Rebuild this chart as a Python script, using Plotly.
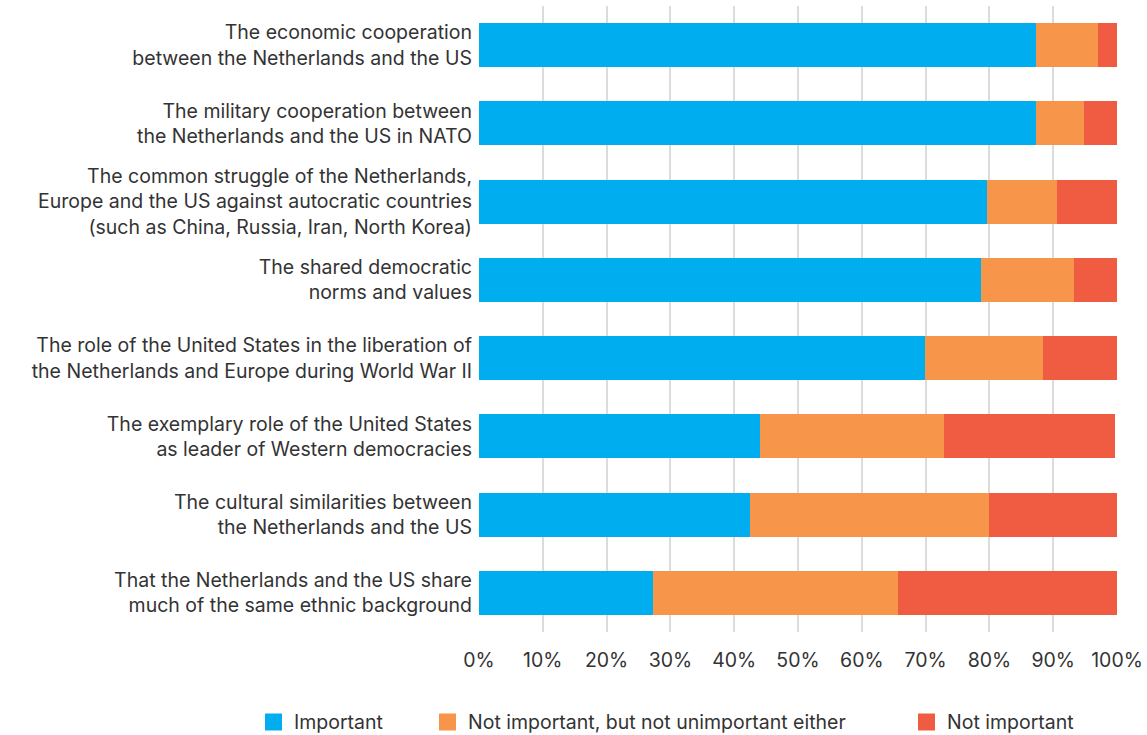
import plotly.graph_objects as go

categories = [
    "The economic cooperation<br>between the Netherlands and the US",
    "The military cooperation between<br>the Netherlands and the US in NATO",
    "The common struggle of the Netherlands,<br>Europe and the US against autocratic countries<br>(such as China, Russia, Iran, North Korea)",
    "The shared democratic<br>norms and values",
    "The role of the United States in the liberation of<br>the Netherlands and Europe during World War II",
    "The exemplary role of the United States<br>as leader of Western democracies",
    "The cultural similarities between<br>the Netherlands and the US",
    "That the Netherlands and the US share<br>much of the same ethnic background",
]
important = [87.3, 87.3, 79.6, 78.7, 69.9, 44.0, 42.5, 27.2]
neutral = [9.7, 7.6, 11.0, 14.6, 18.5, 28.9, 37.5, 38.5]
not_important = [3.0, 5.1, 9.4, 6.7, 11.6, 26.8, 20.0, 34.3]

series = [
    ("Important", important, "#00AEEF"),
    ("Not important, but not unimportant either", neutral, "#F7964B"),
    ("Not important", not_important, "#F05C42"),
]

W, H = 1147, 735
ML, MR, MT, MB = 479, 30, 6, 103
pw, ph = W - ML - MR, H - MT - MB

def px_x(p):  # pixel -> paper x
    return (p - ML) / pw

def px_y(p):  # pixel -> paper y
    return (H - MB - p) / ph

fig = go.Figure()
for name, vals, col in series:
    fig.add_trace(go.Bar(
        y=categories, x=vals, name=name, orientation="h",
        marker=dict(color=col, line=dict(width=0)), showlegend=False,
    ))

# hand-made legend along the bottom
legend_left = [265, 439, 918]
sq = 17
ly = 722
for (name, vals, col), lx in zip(series, legend_left):
    fig.add_shape(type="rect", xref="paper", yref="paper",
                  x0=px_x(lx), x1=px_x(lx + sq), y0=px_y(ly + sq / 2), y1=px_y(ly - sq / 2),
                  fillcolor=col, line=dict(width=0))
    fig.add_annotation(xref="paper", yref="paper", x=px_x(lx + sq + 10), y=px_y(ly),
                       text=name, showarrow=False, xanchor="left", yanchor="middle",
                       font=dict(size=19.5, color="#333333"))

fig.update_layout(
    barmode="stack",
    bargap=0.44,
    width=W, height=H,
    margin=dict(l=ML, r=MR, t=MT, b=MB),
    plot_bgcolor="white", paper_bgcolor="white",
    font=dict(family="Inter, sans-serif", size=19.5, color="#333333"),
    showlegend=False,
    xaxis=dict(range=[0, 100], tickvals=list(range(0, 101, 10)),
               ticktext=[f"{v}%" for v in range(0, 101, 10)],
               showgrid=True, gridcolor="#DCDCDC", gridwidth=2,
               zeroline=False, showline=False, ticks="", ticklabelstandoff=14,
               automargin=False),
    yaxis=dict(autorange="reversed", showgrid=False, ticks="", ticklabelstandoff=6,
               showline=False, automargin=False),
)

fig.write_html("out.html", config={"displayModeBar": False},
               post_script="document.body.style.margin='0';")
